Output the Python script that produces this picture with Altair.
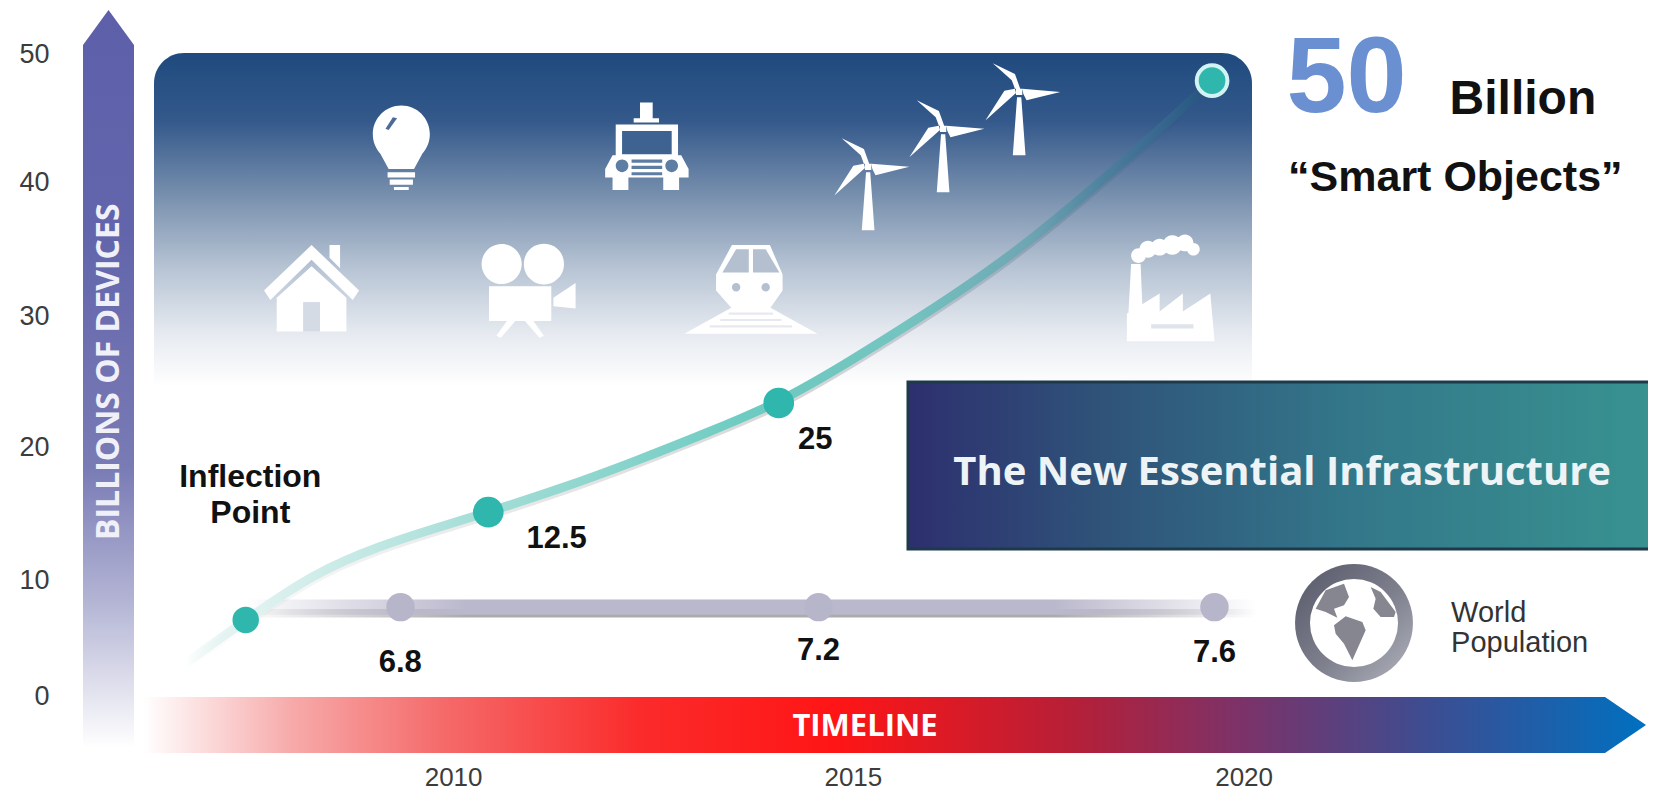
import altair as alt
import pandas as pd

# ---------- data values ----------
curve_year = [2006.73, 2007.49, 2008.33, 2009.17, 2010.0, 2010.53, 2011.43, 2012.35, 2013.28,
              2014.17, 2015.0, 2015.9, 2017.02, 2018.15, 2019.26, 2019.6]
curve_val = [2.6, 6.0, 9.6, 11.8, 13.4, 14.4, 16.2, 18.3, 20.6, 22.9, 25.9, 29.4, 34.0, 39.8, 46.0, 48.0]
point_year = [2007.49, 2010.53, 2014.17]
point_val = [6.0, 14.4, 22.9]
point_size = [700, 940, 940]
last_year = [2019.6]
last_val = [48.0]
pop_year = [2009.43, 2014.67, 2019.63]
pop_val = [7.0, 7.0, 7.0]
pop_line_year = [2007.46]
pop_line_end = [2020.16]
pop_line_top = [7.6]
pop_line_bottom = [6.4]
pop_shadow_top = [6.85]
pop_shadow_bottom = [6.2]
y_tick_labels = ["0", "10", "20", "30", "40", "50"]
y_tick_rows = [660, 550, 424, 300, 173, 52]
x_tick_labels = ["2010", "2015", "2020"]
x_tick_cols = [429.5, 808, 1178]

W, H = 1640, 785
K = 1656 / 1568
PXY = 79.8      # page px per year
PXV = 12.84     # page px per device unit


def yr(px):   # page px -> year
    return 2010 + (px - 446) / PXY


def val(py):  # page px -> value
    return (697 - py) / PXV


XS = alt.Scale(domain=[yr(8), yr(8 + W)], nice=False, zero=False)
YS = alt.Scale(domain=[val(8 + H), val(8)], nice=False, zero=False)


def X(f):
    return alt.X(f + ":Q", scale=XS, axis=None, title=None)


def Y(f):
    return alt.Y(f + ":Q", scale=YS, axis=None, title=None)


def grad(stops, vertical=False):
    return alt.Gradient(gradient="linear", x1=0, y1=0, x2=0 if vertical else 1, y2=1 if vertical else 0,
                        stops=[alt.GradientStop(offset=o, color=c) for o, c in stops])


# ---------- icon paths ----------
def poly(*pts):
    return lambda cx, cy, h: "M" + " L".join(f"{(x-cx)/h:.4f},{(y-cy)/h:.4f}" for x, y in pts) + " Z"


def rect(a, b, c, d):
    return poly((a, b), (c, b), (c, d), (a, d))


def circ(x, y, r):
    def f(cx, cy, h):
        R = r / h
        return (f"M{(x-r-cx)/h:.4f},{(y-cy)/h:.4f} A{R:.4f},{R:.4f} 0 1 1 {(x+r-cx)/h:.4f},{(y-cy)/h:.4f} "
                f"A{R:.4f},{R:.4f} 0 1 1 {(x-r-cx)/h:.4f},{(y-cy)/h:.4f} Z")
    return f


icons = []


def icon(cx, cy, h, color, *parts, unit=K, loc=None):
    lx, ly = loc if loc else (cx * K, cy * K)
    icons.append(dict(x=yr(lx), y=val(ly), size=(2 * h * unit) ** 2, color=color,
                      path=" ".join(p(cx, cy, h) for p in parts)))


WHITE = "#ffffff"
# bulb
icon(380, 140, 45, WHITE, circ(380, 127, 27), poly((356, 138), (404, 138), (392, 160), (368, 160)),
     rect(367, 163, 393, 168), rect(369, 170, 391, 175), rect(373, 177, 387, 180))
icon(380, 140, 45, "#4a6c96", poly((365, 122), (372, 111), (376, 112), (368, 123)))
# car
icon(612, 138, 45, WHITE, rect(606, 97, 618, 112), rect(600, 112, 624, 116), rect(583, 118, 642, 150),
     poly((580, 147), (645, 147), (652, 160), (652, 168), (573, 168), (573, 160)),
     rect(580, 168, 595, 180), rect(628, 168, 643, 180))
icon(612, 138, 45, "#3f6391", rect(589, 124, 636, 146))
icon(612, 138, 45, "#5e7da2", circ(589, 157, 6), circ(636, 157, 6), rect(598, 151, 627, 154), rect(598, 157, 627, 160),
     rect(598, 163, 627, 166))
# house
icon(295, 272, 50, WHITE, poly((295, 232), (340, 275), (334, 284), (295, 246), (256, 284), (250, 275)),
     poly((312, 232), (322, 232), (322, 254), (312, 244)),
     poly((295, 252), (328, 282), (328, 314), (262, 314), (262, 282)))
icon(295, 272, 50, "#d5dbe5", rect(287, 286, 303, 314))
# film camera
icon(500, 272, 52, WHITE, circ(475, 250, 19), circ(515, 250, 19), rect(463, 271, 522, 304),
     poly((524, 282), (545, 268), (545, 292), (524, 290)),
     poly((480, 304), (488, 304), (474, 320), (470, 318)), poly((505, 304), (497, 304), (511, 320), (515, 318)))
# train
icon(711, 275, 66, WHITE, poly((693, 232), (729, 232), (741, 260), (741, 275), (729, 292), (693, 292), (678, 275), (678, 260)),
     poly((695, 290), (727, 290), (774, 316), (648, 316)))
icon(711, 275, 66, "#b4c0d0", poly((697, 236), (709, 236), (709, 258), (684, 258)),
     poly((713, 236), (725, 236), (738, 258), (713, 258)), circ(697, 272, 4), circ(725, 272, 4))
icon(711, 275, 66, "#e6eaf0", rect(690, 296, 732, 298), rect(682, 302, 740, 304), rect(672, 308, 750, 310))


# wind turbines
def turbine(hx, hy):
    p = lambda *pts: poly(*[(hx + a, hy + b) for a, b in pts])
    icon(hx, hy + 15, 50, WHITE, p((-2, 5), (2, 5), (6, 60), (-6, 60)),
         p((-25, -27), (-4, -17), (1, -3), (-4, -3), (-7, -11)),
         p((3, -3), (39, 0), (7, 8), (4, 2)),
         p((-32, 27), (-14, -1), (-4, -3), (-3, 1)), p((-3, -3), (3, -3), (3, 3), (-3, 3)))


turbine(822, 158)
turbine(893, 122)
turbine(965, 87)
# factory
icon(1108, 275, 52, WHITE, poly((1071, 250), (1080, 250), (1083, 323), (1067, 323)),
     poly((1067, 323), (1067, 297), (1098, 278), (1098, 295), (1120, 278), (1120, 295), (1146, 278), (1150, 323)),
     circ(1078, 242, 7), circ(1087, 236, 8), circ(1098, 234, 8), circ(1110, 232, 9), circ(1122, 230, 8), circ(1130, 236, 6))
icon(1108, 275, 52, "#dfe3ea", rect(1090, 307, 1130, 311))
# globe continents (units: zoom px of the reference)
GC = (1354, 623)
icons_globe_start = len(icons)
icon(350, 278, 150, "#85868f",
     poly((235, 235), (265, 180), (320, 160), (335, 200), (320, 225), (290, 235), (300, 262), (265, 245)),
     poly((290, 285), (325, 258), (375, 275), (385, 300), (345, 390), (320, 340), (295, 310)),
     poly((400, 170), (430, 185), (475, 245), (470, 260), (430, 260), (408, 235), (415, 205)),
     unit=1 / 3, loc=GC)
icons_df = pd.DataFrame(icons)

# ---------- decorative geometry ----------
panel = pd.DataFrame([dict(x=yr(154), x2=yr(1252), y=val(53), y2=val(412))])
banner = pd.DataFrame([dict(x=yr(908), x2=yr(1660), y=val(382), y2=val(549))])
yarrow = pd.DataFrame(dict(y=[val(748), val(45), val(10)], x=[yr(83), yr(83), yr(108.5)], x2=[yr(134), yr(134), yr(108.5)]))
xarrow = pd.DataFrame(dict(x=[yr(143), yr(1605), yr(1646)], y=[val(697), val(697), val(725)], y2=[val(753), val(753), val(725)]))
curve = pd.DataFrame(dict(x=curve_year, y=curve_val))
curve_shadow = pd.DataFrame(dict(x=curve_year, y=[v - 0.25 for v in curve_val]))
popline = pd.DataFrame(dict(x=pop_line_year, x2=pop_line_end, y=pop_line_top, y2=pop_line_bottom))
popshadow = pd.DataFrame(dict(x=pop_line_year, x2=pop_line_end, y=pop_shadow_top, y2=pop_shadow_bottom))
pts = pd.DataFrame(dict(x=point_year, y=point_val, s=point_size))
last = pd.DataFrame(dict(x=last_year, y=last_val))
pop = pd.DataFrame(dict(x=pop_year, y=pop_val))


def label(rows, size, color="#111111", weight="bold", font="Liberation Sans", align="center", angle=0):
    df = pd.DataFrame([dict(x=yr(a * K), y=val(b * K), t=t) for a, b, t in rows])
    return alt.Chart(df).mark_text(fontSize=size, color=color, fontWeight=weight, font=font, align=align,
                                   baseline="middle", angle=angle).encode(x=X("x"), y=Y("y"), text="t:N")


def icon_layer(df):
    d = df.reset_index(drop=True).assign(idx=lambda t: t.index)
    return alt.Chart(d).mark_point(filled=True, opacity=1, strokeWidth=0).encode(
        x=X("x"), y=Y("y"), shape=alt.Shape("path:N", scale=None), size=alt.Size("size:Q", scale=None),
        color=alt.Color("color:N", scale=None), order=alt.Order("idx:Q"))


band_stops = lambda c0, c1: [(0, c0), (0.22, c1), (0.8, c1), (1, c0)]

layers = [
    alt.Chart(panel).mark_rect(cornerRadius=30, color=grad(
        [(0, "#1f4a7e"), (0.19, "#34598b"), (0.41, "#7c93b0"), (0.6, "#b7c4d4"), (0.78, "#e6eaf0"), (0.93, "#ffffff"), (1, "#ffffff")],
        True)).encode(x=X("x"), x2="x2:Q", y=Y("y"), y2="y2:Q"),
    alt.Chart(yarrow).mark_area(orient="horizontal", interpolate="linear", color=grad(
        [(0, "#5d5fa9"), (0.3, "#6365ac"), (0.62, "#797bb5"), (0.8, "#b3b4d4"), (1, "#ffffff")], True)
    ).encode(y=Y("y"), x=X("x"), x2="x2:Q"),
    alt.Chart(xarrow).mark_area(interpolate="linear", color=grad(
        [(0, "#ffffff"), (0.1, "#f7a9a9"), (0.2, "#f56a6a"), (0.33, "#fb2b2b"), (0.46, "#ff1515"), (0.62, "#b51f38"),
         (0.73, "#7c3268"), (0.85, "#3f4c90"), (1, "#0070c0")])
    ).encode(x=X("x"), y=Y("y"), y2="y2:Q"),
    icon_layer(icons_df.iloc[:icons_globe_start]),
    # population band
    alt.Chart(popshadow).mark_rect(color=grad(band_stops("rgba(150,150,150,0)", "rgba(150,150,150,0.8)"))
                                   ).encode(x=X("x"), x2="x2:Q", y=Y("y"), y2="y2:Q"),
    alt.Chart(popline).mark_rect(color=grad(band_stops("rgba(186,184,204,0)", "rgba(186,184,204,1)"))
                                 ).encode(x=X("x"), x2="x2:Q", y=Y("y"), y2="y2:Q"),
    # growth curve
    alt.Chart(curve_shadow).mark_line(strokeWidth=9, interpolate="basis", stroke=grad(
        [(0, "rgba(120,120,120,0)"), (0.2, "rgba(120,120,120,0.12)"), (0.6, "rgba(90,90,90,0.25)"), (0.85, "rgba(30,60,90,0.15)"),
         (1, "rgba(30,60,90,0)")])).encode(x=X("x"), y=Y("y")),
    alt.Chart(curve).mark_line(strokeWidth=9, interpolate="basis", stroke=grad(
        [(0, "rgba(190,230,225,0)"), (0.07, "#dff2f0"), (0.27, "#a9dfd9"), (0.55, "#6dcbc1"), (0.7, "#74c4c0"),
         (0.82, "#6fa6b3"), (0.93, "#3f6f94"), (1, "#23527f")])).encode(x=X("x"), y=Y("y")),
    alt.Chart(pts).mark_circle(opacity=1, color="#2fb6ad").encode(x=X("x"), y=Y("y"), size=alt.Size("s:Q", scale=None)),
    alt.Chart(last).mark_circle(size=940, opacity=1, color="#2fb6ad", stroke="#d2f3f4", strokeWidth=4).encode(x=X("x"), y=Y("y")),
    alt.Chart(pop).mark_circle(size=810, opacity=1, color="#b7b5c9").encode(x=X("x"), y=Y("y")),
    # banner
    alt.Chart(banner).mark_rect(stroke="#1d3a4a", strokeWidth=3, color=grad(
        [(0, "#2d2f6e"), (0.25, "#2f5279"), (0.6, "#33788a"), (1, "#389390")])
    ).encode(x=X("x"), x2="x2:Q", y=Y("y"), y2="y2:Q"),
    # globe
    alt.Chart(pd.DataFrame([dict(x=yr(GC[0]), y=val(GC[1]))])).mark_point(
        filled=True, opacity=1, size=13900, shape="circle", strokeWidth=0,
        color=alt.Gradient(gradient="linear", x1=0, y1=0, x2=1, y2=1,
                           stops=[alt.GradientStop(offset=0, color="#565868"), alt.GradientStop(offset=0.55, color="#7e808e"),
                                  alt.GradientStop(offset=1, color="#b2b3bc")])).encode(x=X("x"), y=Y("y")),
    alt.Chart(pd.DataFrame([dict(x=yr(GC[0]), y=val(GC[1]))])).mark_point(
        filled=True, opacity=1, size=7750, shape="circle", strokeWidth=0, color="#ffffff").encode(x=X("x"), y=Y("y")),
    icon_layer(icons_df.iloc[icons_globe_start:]),
    # tick labels
    label([(47, r, t) for r, t in zip(y_tick_rows, y_tick_labels)], 27, color="#3c3c3c", weight="normal", align="right"),
    label([(c, 737, t) for c, t in zip(x_tick_cols, x_tick_labels)], 26, color="#3c3c3c", weight="normal"),
    # texts
    label([(237, 452, "Inflection"), (237, 486, "Point")], 32),
    label([(527, 510, "12.5"), (772, 417, "25"), (379, 628, "6.8"), (775, 616, "7.2"), (1150, 618, "7.6")], 31),
    label([(1275, 76, "50")], 108, color="#6a90d2"),
    label([(1442, 95, "Billion")], 48),
    label([(1378, 169, "“Smart Objects”")], 43),
    label([(1214, 448, "The New Essential Infrastructure")], 40, color="#eef3f5", font="Open Sans"),
    label([(819, 688, "TIMELINE")], 31, color="#ffffff", font="Open Sans"),
    label([(103, 352, "BILLIONS OF DEVICES")], 32, color="#f0f0f8", font="Open Sans", angle=270),
    label([(1374, 580, "World"), (1374, 609, "Population")], 29, color="#333333", weight="normal", align="left"),
]

chart = alt.layer(*layers).properties(width=W, height=H, padding=0, autosize=alt.AutoSizeParams(type="none"),
                                      background="#ffffff").configure_view(stroke=None)
chart.save("out.html", embed_options={"renderer": "svg", "actions": False})
